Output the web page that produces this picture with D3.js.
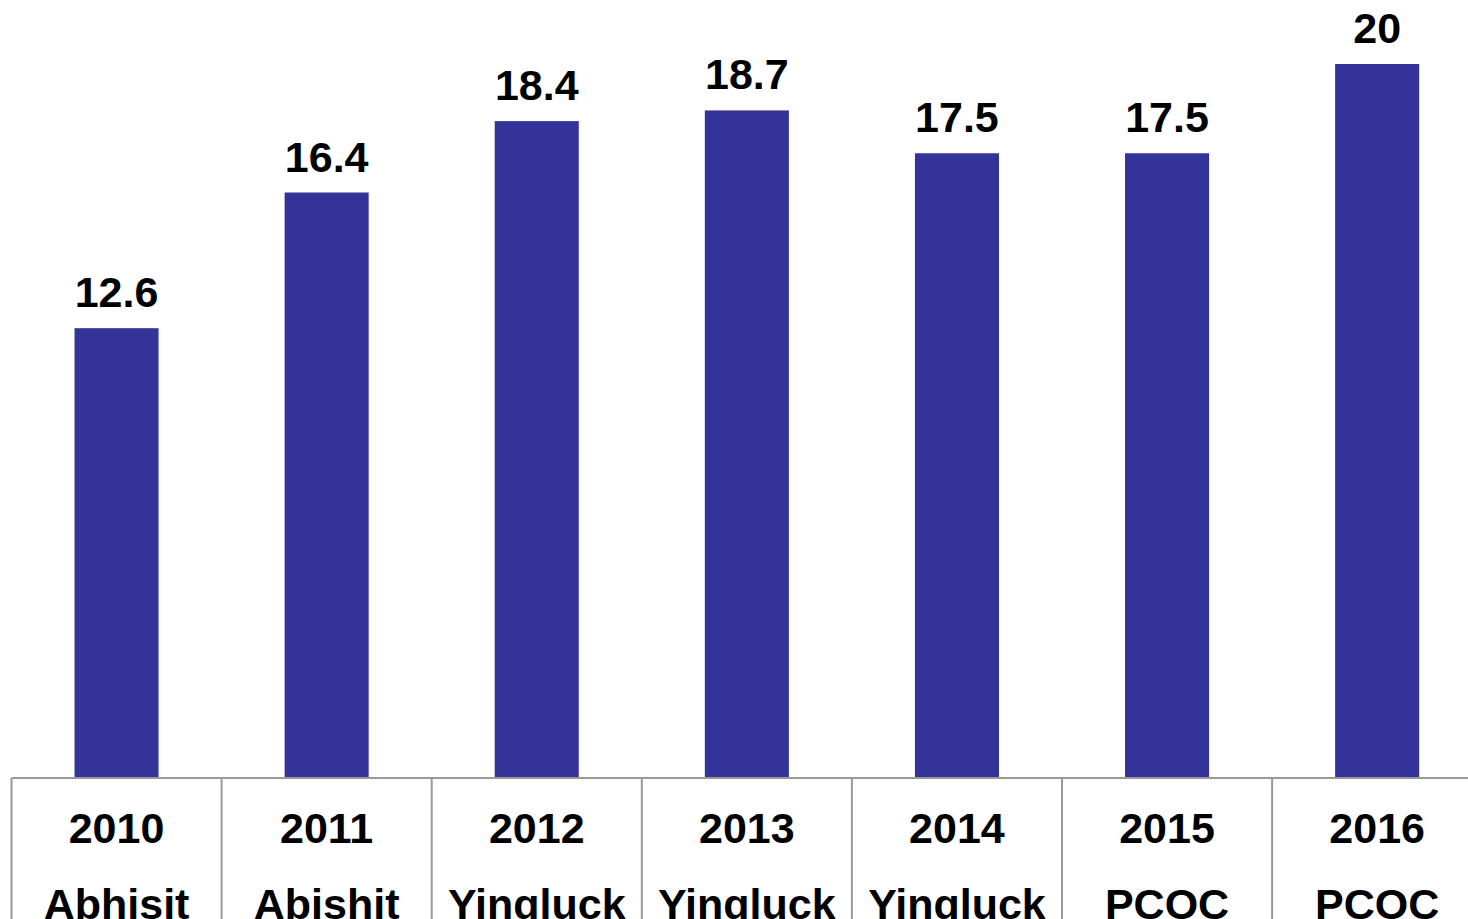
<!DOCTYPE html>
<html><head><meta charset="utf-8">
<script src="https://cdn.jsdelivr.net/npm/d3@7"></script>
<style>html,body{margin:0;padding:0;background:#fff;overflow:hidden}</style>
</head><body>
<svg id="c" width="1468" height="919"></svg>
<script>
const years = ["2010","2011","2012","2013","2014","2015","2016"];
const leaders = ["Abhisit","Abishit","Yingluck","Yingluck","Yingluck","PCOC","PCOC"];
const values = [12.6,16.4,18.4,18.7,17.5,17.5,20];

const svg = d3.select("#c");
const left = 11.5, band = 210.1, baseY = 778, topY = 64;
const x = d3.scaleBand().domain(years).range([left, left + band*years.length]).paddingInner(0).paddingOuter(0);
const y = d3.scaleLinear().domain([0,20]).range([baseY, topY]);
const barW = x.bandwidth()*0.4;
const font = "Liberation Sans, Arial, sans-serif";

svg.selectAll("rect.bar").data(values).join("rect")
  .attr("class","bar")
  .attr("x",(d,i)=>x(years[i]) + x.bandwidth()/2 - barW/2)
  .attr("y",d=>y(d))
  .attr("width",barW)
  .attr("height",d=>baseY - y(d))
  .attr("fill","#333399");

svg.selectAll("text.val").data(values).join("text")
  .attr("class","val")
  .attr("x",(d,i)=>x(years[i]) + x.bandwidth()/2)
  .attr("y",d=>y(d) - 21)
  .attr("text-anchor","middle")
  .attr("font-family",font).attr("font-weight","bold").attr("font-size",43)
  .attr("fill","#000")
  .text(d=>d);

// axis line
svg.append("line").attr("x1",left).attr("x2",1468).attr("y1",baseY).attr("y2",baseY)
  .attr("stroke","#999").attr("stroke-width",2);
// separators
const bounds = years.map(d=>x(d)).concat([x(years[years.length-1])+x.bandwidth()]);
svg.selectAll("line.sep").data(bounds).join("line")
  .attr("class","sep")
  .attr("x1",d=>d).attr("x2",d=>d).attr("y1",baseY).attr("y2",919)
  .attr("stroke","#999").attr("stroke-width",2);

svg.selectAll("text.yr").data(years).join("text")
  .attr("class","yr")
  .attr("x",d=>x(d)+x.bandwidth()/2)
  .attr("y",baseY+65)
  .attr("text-anchor","middle")
  .attr("font-family",font).attr("font-weight","bold").attr("font-size",43)
  .text(d=>d);
svg.selectAll("text.ld").data(leaders).join("text")
  .attr("class","ld")
  .attr("x",(d,i)=>x(years[i])+x.bandwidth()/2)
  .attr("y",baseY+141)
  .attr("text-anchor","middle")
  .attr("font-family",font).attr("font-weight","bold").attr("font-size",43)
  .text(d=>d);
</script>
</body></html>
